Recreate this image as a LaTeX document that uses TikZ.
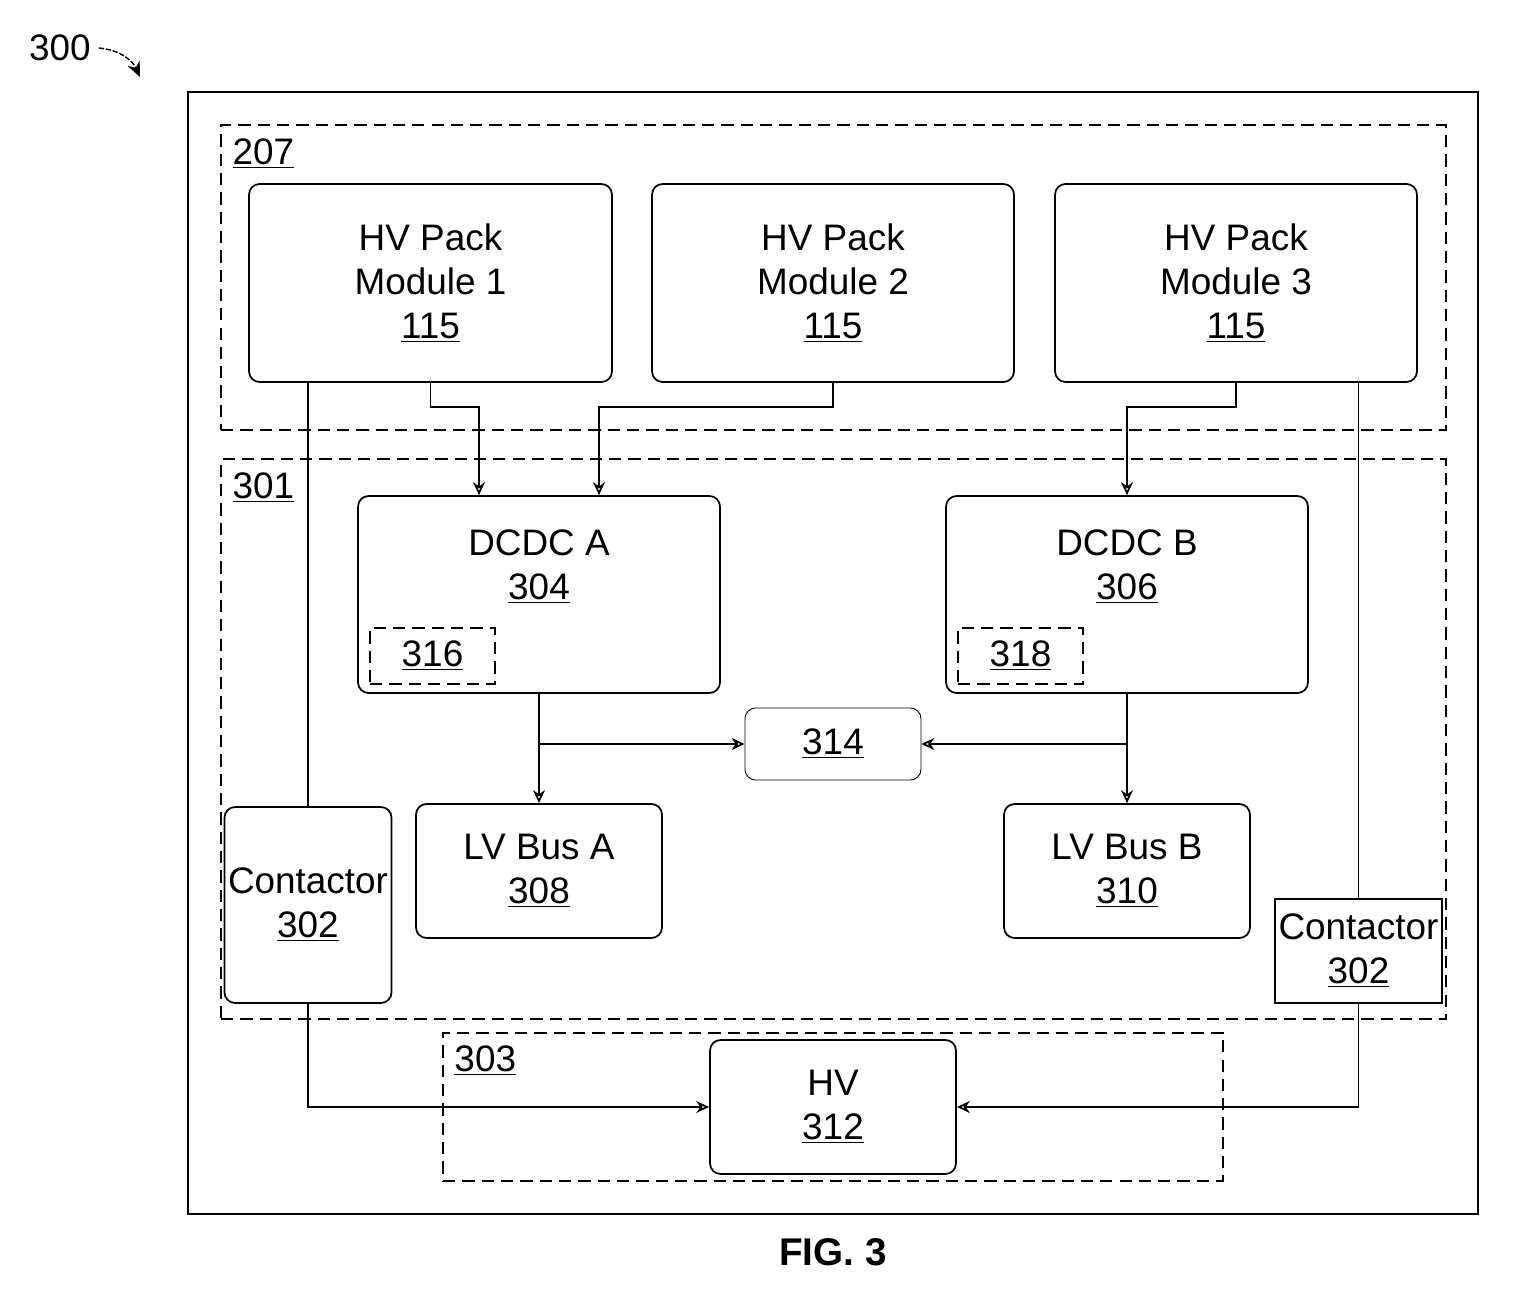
\documentclass[tikz,border=0pt]{standalone}
\usepackage{fontspec}
\setmainfont{Liberation Sans}
\usetikzlibrary{arrows.meta,calc}
\newcommand\blkfont{\fontsize{21}{25}\selectfont}
\tikzset{
  blk/.style    ={draw,rounded corners=6pt,line width=1pt,align=center,
                  font=\blkfont,inner sep=2pt},
  sqblk/.style  ={blk,rounded corners=0pt},
  thinblk/.style={blk,line width=0.5pt},
  grp/.style    ={draw,dashed,dash pattern=on 7pt off 4pt,line width=0.8pt},
  tag/.style    ={font=\blkfont,inner sep=1pt,anchor=north west},
  flow/.style   ={-{Stealth[open,length=2.6mm,width=2.4mm]},line width=1pt},
  wire/.style   ={line width=1pt},
}
\begin{document}
\begin{tikzpicture}[x=0.02cm,y=-0.02cm]
  \useasboundingbox (0,0) rectangle (1536,1300);

  % frame and groups
  \node[draw,line width=1.4pt,minimum width=25.8cm,minimum height=22.44cm] (frame) at (833,653) {};
  \node[grp,minimum width=24.5cm,minimum height=6.1cm] (g207) at (833.5,277.5) {};
  \node[grp,minimum width=24.5cm,minimum height=11.2cm] (g301) at (833.5,739) {};
  \node[grp,minimum width=15.6cm,minimum height=2.96cm] (g303) at (833,1107) {};
  \node[tag] (t207) at ($(g207.north west)+(10,12)$) {\underline{207}};
  \node[tag] (t301) at ($(g301.north west)+(10,12)$) {\underline{301}};
  \node[tag] (t303) at ($(g303.north west)+(10,11)$) {\underline{303}};

  % pack modules
  \node[blk,minimum width=7.26cm,minimum height=3.96cm] (mod1) at (430.5,283) {HV Pack\\Module 1\\\underline{115}};
  \node[blk,minimum width=7.24cm,minimum height=3.96cm] (mod2) at (833,283) {HV Pack\\Module 2\\\underline{115}};
  \node[blk,minimum width=7.24cm,minimum height=3.96cm] (mod3) at (1236,283) {HV Pack\\Module 3\\\underline{115}};

  % converters
  \node[blk,minimum width=7.24cm,minimum height=3.94cm] (dcdca) at (539,594.5) {};
  \node[font=\blkfont,align=center,anchor=north] (dcdcalbl) at ($(dcdca.north)+(0,28)$) {DCDC A\\\underline{304}};
  \node[blk,grp,rounded corners=0pt,minimum width=2.5cm,minimum height=1.12cm] (n316) at (432.5,656) {\underline{316}};
  \node[blk,minimum width=7.24cm,minimum height=3.94cm] (dcdcb) at (1127,594.5) {};
  \node[font=\blkfont,align=center,anchor=north] (dcdcblbl) at ($(dcdcb.north)+(0,28)$) {DCDC B\\\underline{306}};
  \node[blk,grp,rounded corners=0pt,minimum width=2.5cm,minimum height=1.12cm] (n318) at (1020.5,656) {\underline{318}};

  \node[thinblk,minimum width=3.52cm,minimum height=1.44cm] (n314) at (833,744) {\underline{314}};

  \node[blk,minimum width=4.92cm,minimum height=2.68cm] (lva) at (539,871) {LV Bus A\\\underline{308}};
  \node[blk,minimum width=4.92cm,minimum height=2.68cm] (lvb) at (1127,871) {LV Bus B\\\underline{310}};

  \node[blk,minimum width=3.28cm,minimum height=3.92cm] (cl) at (308,905) {Contactor\\\underline{302}};
  \node[sqblk,line width=0.7pt,minimum width=3.3cm,minimum height=2.08cm] (cr) at (1358.5,951) {Contactor\\\underline{302}};

  \node[blk,minimum width=4.92cm,minimum height=2.68cm] (hv) at (833,1107) {HV\\\underline{312}};

  % connections
  \draw[wire] (mod1.south -| cl.north) -- (cl.north);
  \draw[flow] (mod1.south) -- ++(0,24) -| ($(dcdca.north)+(-60,0)$);
  \draw[flow] (mod2.south) -- ++(0,24) -| ($(dcdca.north)+(60,0)$);
  \draw[flow] (mod3.south) -- ++(0,24) -| (dcdcb.north);
  \draw[wire] (mod3.south -| cr.north) -- (cr.north);

  \draw[flow] (dcdca.south) -- (lva.north);
  \draw[flow] (dcdca.south |- n314.west) -- (n314.west);
  \draw[flow] (dcdcb.south) -- (lvb.north);
  \draw[flow] (dcdcb.south |- n314.east) -- (n314.east);

  \draw[flow] (cl.south) |- (hv.west);
  \draw[flow] (cr.south) |- (hv.east);

  % reference numeral and caption
  \node[font=\blkfont,inner sep=1pt] (t300) at (60,48) {300};
  \coordinate (p300) at (140,77);
  \draw[-{Stealth[length=3mm,width=2.6mm]},line width=0.8pt,dashed,dash pattern=on 3pt off 1pt]
    ($(t300.east)+(6,0)$) to[bend left=30] (p300);
  \node[font=\fontsize{22}{26}\selectfont\bfseries] (cap) at (833,1252) {FIG. 3};
\end{tikzpicture}
\end{document}
